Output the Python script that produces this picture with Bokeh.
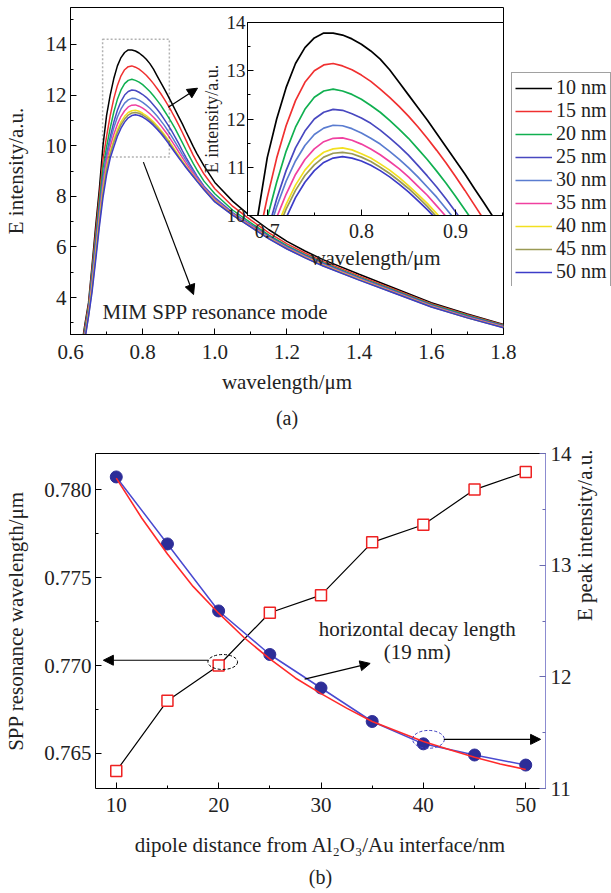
import math
from bokeh.plotting import figure
from bokeh.models import (Range1d, LinearAxis, Legend, LegendItem, Label, Arrow, NormalHead,
                          SingleIntervalTicker, PrintfTickFormatter, BoxAnnotation, FixedTicker,
                          Title)
from bokeh.layouts import column
from bokeh.embed import file_html
from bokeh.resources import INLINE

FONT = "Liberation Serif"

# ---------------- data: panel (a) ----------------
WL = [0.63, 0.64, 0.65, 0.66, 0.67, 0.68, 0.69, 0.70, 0.71, 0.72, 0.73, 0.74, 0.75, 0.76, 0.77,
      0.78, 0.79, 0.80, 0.81, 0.82, 0.83, 0.84, 0.85, 0.86, 0.87, 0.88, 0.89, 0.90, 0.91, 0.92,
      0.93, 0.94, 0.95, 0.97, 1.0, 1.05, 1.1, 1.15, 1.2, 1.25, 1.3, 1.4, 1.5, 1.6, 1.7, 1.8]
E10 = [2.0, 2.95, 3.8, 5.3, 6.85, 8.3, 10.0, 11.2, 12.0, 12.65, 13.15, 13.48, 13.68, 13.78, 13.78,
       13.74, 13.66, 13.55, 13.41, 13.24, 13.02, 12.76, 12.5, 12.24, 11.98, 11.70, 11.42, 11.14,
       10.86, 10.56, 10.27, 9.97, 9.7, 9.2, 8.55, 7.8, 7.2, 6.68, 6.22, 5.84, 5.5, 4.92, 4.36, 3.8,
       3.35, 2.94]
E15 = [1.95, 2.85, 3.7, 5.15, 6.6, 8.0, 9.45, 10.37, 11.19, 11.86, 12.38, 12.76, 13.0, 13.12, 13.15,
       13.10, 13.02, 12.91, 12.78, 12.62, 12.45, 12.26, 12.06, 11.84, 11.6, 11.35, 11.09, 10.81,
       10.52, 10.22, 9.92, 9.63, 9.36, 8.88, 8.3, 7.6, 7.06, 6.56, 6.12, 5.76, 5.43, 4.86, 4.31,
       3.76, 3.32, 2.92]
E20 = [1.9, 2.75, 3.6, 5.0, 6.35, 7.75, 9.1, 9.95, 10.69, 11.33, 11.83, 12.20, 12.45, 12.58, 12.62,
       12.58, 12.51, 12.41, 12.28, 12.14, 11.97, 11.79, 11.6, 11.38, 11.16, 10.92, 10.67, 10.40,
       10.12, 9.84, 9.57, 9.3, 9.05, 8.6, 8.1, 7.45, 6.95, 6.47, 6.05, 5.7, 5.38, 4.81, 4.27, 3.73,
       3.29, 2.9]
E25 = [1.8, 2.65, 3.5, 4.85, 6.15, 7.5, 8.75, 9.65, 10.34, 10.93, 11.4, 11.75, 12.0, 12.14, 12.2,
       12.18, 12.11, 12.02, 11.91, 11.77, 11.61, 11.44, 11.25, 11.04, 10.82, 10.59, 10.34, 10.08,
       9.8, 9.54, 9.29, 9.05, 8.82, 8.4, 7.95, 7.35, 6.88, 6.42, 6.01, 5.67, 5.35, 4.78, 4.24, 3.7,
       3.26, 2.88]
E30 = [1.75, 2.55, 3.45, 4.7, 6.0, 7.35, 8.6, 9.57, 10.18, 10.71, 11.13, 11.45, 11.68, 11.81, 11.87,
       11.86, 11.80, 11.71, 11.60, 11.48, 11.33, 11.17, 10.99, 10.80, 10.59, 10.38, 10.14, 9.9,
       9.66, 9.43, 9.2, 8.98, 8.77, 8.37, 7.9, 7.32, 6.85, 6.39, 5.98, 5.64, 5.32, 4.76, 4.22, 3.68,
       3.24, 2.86]
E35 = [1.7, 2.5, 3.4, 4.55, 5.85, 7.2, 8.4, 9.35, 9.96, 10.44, 10.85, 11.16, 11.38, 11.53, 11.6,
       11.61, 11.56, 11.48, 11.38, 11.26, 11.12, 10.97, 10.80, 10.61, 10.42, 10.2, 9.98, 9.75,
       9.53, 9.31, 9.1, 8.9, 8.71, 8.33, 7.86, 7.3, 6.83, 6.37, 5.96, 5.62, 5.3, 4.74, 4.2, 3.67,
       3.23, 2.85]
E40 = [1.65, 2.45, 3.35, 4.45, 5.75, 7.05, 8.25, 9.15, 9.75, 10.23, 10.63, 10.94, 11.16, 11.31, 11.38,
       11.40, 11.36, 11.28, 11.19, 11.07, 10.94, 10.79, 10.62, 10.44, 10.25, 10.04, 9.82, 9.61,
       9.4, 9.2, 9.0, 8.82, 8.64, 8.28, 7.82, 7.27, 6.8, 6.35, 5.94, 5.6, 5.28, 4.72, 4.18, 3.65,
       3.21, 2.83]
E45 = [1.6, 2.4, 3.3, 4.35, 5.65, 6.95, 8.15, 9.05, 9.65, 10.13, 10.52, 10.83, 11.05, 11.21, 11.29,
       11.31, 11.28, 11.21, 11.12, 11.0, 10.87, 10.72, 10.56, 10.38, 10.19, 9.97, 9.76, 9.56,
       9.36, 9.17, 8.98, 8.8, 8.62, 8.27, 7.8, 7.26, 6.79, 6.33, 5.93, 5.58, 5.26, 4.7, 4.17, 3.64,
       3.2, 2.82]
E50 = [1.5, 2.35, 3.25, 4.25, 5.5, 6.8, 7.95, 8.85, 9.5, 9.95, 10.37, 10.69, 10.93, 11.10, 11.19,
       11.22, 11.19, 11.13, 11.04, 10.93, 10.80, 10.65, 10.49, 10.31, 10.12, 9.92, 9.72, 9.52,
       9.33, 9.14, 8.96, 8.78, 8.6, 8.26, 7.78, 7.25, 6.78, 6.32, 5.92, 5.57, 5.25, 4.69, 4.16,
       3.63, 3.2, 2.81]
SERIES = [E10, E15, E20, E25, E30, E35, E40, E45, E50]
SERIES_LABELS = ["10 nm", "15 nm", "20 nm", "25 nm", "30 nm", "35 nm", "40 nm", "45 nm", "50 nm"]
COLORS = ["#000000", "#f03030", "#10b050", "#4848c0", "#5a7cd0", "#f040a0", "#f2e020",
          "#9a9a55", "#3c3cc8"]

# ---------------- data: panel (b) ----------------
DIST = [10, 15, 20, 25, 30, 35, 40, 45, 50]
RES_WL = [0.764, 0.768, 0.770, 0.773, 0.774, 0.777, 0.778, 0.780, 0.781]
PEAK_E = [13.79, 13.19, 12.59, 12.20, 11.90, 11.60, 11.40, 11.30, 11.21]
FIT_D = [10, 12.5, 15, 17.5, 20, 22.5, 25, 27.5, 30, 32.5, 35, 37.5, 40, 42.5, 45, 47.5, 50]
FIT_E = [13.78, 13.42, 13.10, 12.81, 12.57, 12.35, 12.16, 11.99, 11.85, 11.72, 11.60, 11.51,
         11.42, 11.35, 11.28, 11.22, 11.17]


def style_axis(ax, size="21px", label_size="21px", standoff=4, label_standoff=10):
    ax.major_tick_in = 6
    ax.major_tick_out = 0
    ax.minor_tick_in = 3
    ax.minor_tick_out = 0
    ax.axis_line_color = "black"
    ax.major_tick_line_color = "black"
    ax.minor_tick_line_color = "black"
    ax.major_label_text_font = FONT
    ax.major_label_text_font_size = size
    ax.major_label_text_color = "#222222"
    ax.axis_label_text_font = FONT
    ax.axis_label_text_font_size = label_size
    ax.axis_label_text_font_style = "normal"
    ax.axis_label_text_color = "#222222"
    ax.major_label_standoff = standoff
    ax.axis_label_standoff = label_standoff


def head():
    return NormalHead(size=10, fill_color="black", line_color="black", line_width=1)


W = 611
TOP_H = 436
BOT_H = 893 - TOP_H

# ================= panel (a) main =================
p = figure(width=W, height=TOP_H, x_range=Range1d(0.6, 1.8001), y_range=Range1d(2.543, 15.457),
           output_backend="svg", toolbar_location=None, frame_align=False,
           min_border_left=70, min_border_right=108, min_border_top=7,
           min_border_bottom=TOP_H - 335)
p.xgrid.visible = False
p.ygrid.visible = False
p.outline_line_color = "black"
p.xaxis.ticker = SingleIntervalTicker(interval=0.2, num_minor_ticks=2)
p.yaxis.ticker = SingleIntervalTicker(interval=2, num_minor_ticks=2)
p.xaxis.formatter = PrintfTickFormatter(format="%.1f")
p.xaxis.axis_label = "wavelength/\u03bcm"
p.yaxis.axis_label = "E intensity/a.u."
style_axis(p.xaxis[0], standoff=10, label_standoff=8)
style_axis(p.yaxis[0], label_size="21px", standoff=4, label_standoff=15)

p.add_layout(BoxAnnotation(left=0.689, right=0.874, bottom=9.55, top=14.2, fill_alpha=0,
                           line_color="black", line_dash="2 2", line_width=1.5))

for vals, col in zip(SERIES, COLORS):
    p.line(WL, vals, line_color=col, line_width=1.5)

p.add_layout(Arrow(end=head(), x_start=0.871, y_start=11.52, x_end=0.952, y_end=12.27,
                   line_width=1.2))
p.add_layout(Arrow(end=head(), x_start=0.802, y_start=9.35, x_end=0.941, y_end=4.12,
                   line_width=1.2))
p.add_layout(Label(x=0.689, y=3.45, text="MIM SPP resonance mode", text_font=FONT,
                   text_font_size="21px", text_align="left", text_baseline="middle",
                   text_color="#222222"))
p.add_layout(Title(text="(a)", align="center", offset=36, text_font=FONT,
                   text_font_size="20px", text_font_style="normal", text_color="#222222",
                   standoff=16), "below")

# ================= panel (a) inset =================
IN_TOP, IN_H = 12, 265
pi = figure(width=314, height=IN_H, x_range=Range1d(0.679, 0.951), y_range=Range1d(10, 14),
            output_backend="svg", toolbar_location=None, frame_align=False,
            min_border_left=55, min_border_right=3, min_border_top=10, min_border_bottom=62,
            margin=(-(TOP_H - IN_TOP), 0, TOP_H - IN_TOP - IN_H, 192))
pi.border_fill_color = None
pi.background_fill_color = "white"
pi.xgrid.visible = False
pi.ygrid.visible = False
pi.outline_line_color = "black"
pi.xaxis.ticker = SingleIntervalTicker(interval=0.1, num_minor_ticks=2)
pi.yaxis.ticker = SingleIntervalTicker(interval=1, num_minor_ticks=2)
pi.xaxis.formatter = PrintfTickFormatter(format="%.1f")
pi.xaxis.axis_label = "wavelength/\u03bcm"
style_axis(pi.xaxis[0], size="20px", label_size="21px", standoff=8, label_standoff=5)
style_axis(pi.yaxis[0], size="19px", label_size="20px", standoff=2, label_standoff=3)
pi.add_layout(Title(text="E intensity/a.u.", align="center", offset=26, standoff=4,
                    text_font=FONT, text_font_size="18px", text_font_style="normal",
                    text_color="#222222"), "left")
for vals, col in zip(SERIES, COLORS):
    pi.line(WL, vals, line_color=col, line_width=1.7)

# ================= panel (a) legend (overlaid box at the right edge) =================
LEG_TOP, LEG_H = 72, 214
pl = figure(width=W - 511, height=LEG_H, x_range=Range1d(100, 101), y_range=Range1d(100, 101),
            output_backend="svg", toolbar_location=None, frame_align=False,
            x_axis_location=None, y_axis_location=None, min_border=0,
            margin=(-(TOP_H - LEG_TOP), 0, TOP_H - LEG_TOP - LEG_H, 511))
pl.xgrid.visible = False
pl.ygrid.visible = False
pl.outline_line_color = None
pl.background_fill_color = "white"
pl.border_fill_color = None
leg_renderers = [pl.line(WL, vals, line_color=col, line_width=1.5)
                 for vals, col in zip(SERIES, COLORS)]
legend = Legend(items=[LegendItem(label=lab, renderers=[r])
                       for lab, r in zip(SERIES_LABELS, leg_renderers)],
                location="top_left", margin=0, padding=3, spacing=0,
                glyph_width=37, glyph_height=22, label_height=22, label_standoff=4,
                label_text_font=FONT, label_text_font_size="20px", label_text_color="#222222",
                border_line_color="#444444", border_line_width=1, background_fill_alpha=1)
pl.add_layout(legend)

# ================= panel (b) =================
p2 = figure(width=W, height=BOT_H, x_range=Range1d(7.971, 51.93),
            y_range=Range1d(0.76301, 0.78205),
            output_backend="svg", toolbar_location=None, frame_align=False,
            min_border_left=95, min_border_right=61, min_border_top=453 - TOP_H,
            min_border_bottom=893 - 788)
p2.extra_y_ranges = {"E": Range1d(11, 14)}
p2.xgrid.visible = False
p2.ygrid.visible = False
p2.outline_line_color = None
p2.xaxis.ticker = SingleIntervalTicker(interval=10, num_minor_ticks=2)
p2.yaxis.ticker = SingleIntervalTicker(interval=0.005, num_minor_ticks=2)
p2.yaxis.formatter = PrintfTickFormatter(format="%.3f")
p2.xaxis.axis_label = "dipole distance from Al\u2082O\u2083/Au interface/nm"
p2.yaxis.axis_label = "SPP resonance wavelength/\u03bcm"
style_axis(p2.xaxis[0], standoff=9, label_standoff=18)
style_axis(p2.yaxis[0], standoff=4, label_standoff=13)

right = LinearAxis(y_range_name="E", axis_label="E peak intensity/a.u.",
                   ticker=SingleIntervalTicker(interval=1, num_minor_ticks=2))
style_axis(right, standoff=5, label_standoff=10)
right.axis_line_color = "#8c8cd0"
right.major_tick_line_color = "#6a6ab0"
right.minor_tick_line_color = "#6a6ab0"
try:
    right.axis_label_orientation = math.pi / 2
except Exception:
    pass
p2.add_layout(right, "right")

top = LinearAxis(ticker=FixedTicker(ticks=[]), major_tick_out=0, major_tick_in=0,
                 minor_tick_out=0, minor_tick_in=0, axis_line_color="black",
                 major_label_text_font_size="0px")
p2.add_layout(top, "above")

p2.line(DIST, RES_WL, line_color="black", line_width=1.2)
p2.scatter(DIST, RES_WL, marker="square", size=11, fill_color="white", line_color="#ee2222",
           line_width=1.5)
p2.line(DIST, PEAK_E, line_color="#4a4ad0", line_width=1.5, y_range_name="E")
p2.scatter(DIST, PEAK_E, marker="circle", size=12, fill_color="#2d2d98", line_color="#2d2d98",
           y_range_name="E")
p2.line(FIT_D, FIT_E, line_color="#ff2a2a", line_width=1.6, y_range_name="E")

p2.ellipse(x=[20.4], y=[0.7702], width=2.9, height=0.00085, fill_color=None,
           line_color="black", line_dash="3 2", line_width=1)
p2.ellipse(x=[40.5], y=[11.44], width=3.1, height=0.16, fill_color=None,
           line_color="#4040c0", line_dash="3 2", line_width=1, y_range_name="E")

p2.add_layout(Arrow(end=head(), x_start=19.0, y_start=0.7703, x_end=8.74, y_end=0.7703,
                    line_width=1.2))
p2.add_layout(Arrow(end=head(), x_start=42.0, y_start=11.44, x_end=51.45, y_end=11.44,
                    line_width=1.2, y_range_name="E"))
p2.add_layout(Arrow(end=head(), x_start=28.4, y_start=11.98, x_end=34.8, y_end=12.12,
                    line_width=1.2, y_range_name="E"))
p2.add_layout(Label(x=39.4, y=12.43, text="horizontal decay length", y_range_name="E",
                    text_font=FONT, text_font_size="21px", text_align="center",
                    text_baseline="middle", text_color="#222222"))
p2.add_layout(Label(x=39.4, y=12.22, text="(19 nm)", y_range_name="E",
                    text_font=FONT, text_font_size="21px", text_align="center",
                    text_baseline="middle", text_color="#222222"))
p2.add_layout(Title(text="(b)", align="center", offset=0, text_font=FONT,
                    text_font_size="20px", text_font_style="normal", text_color="#222222",
                    standoff=9), "below")

layout = column(p, pi, pl, p2)
open("out.html", "w").write(file_html(layout, INLINE, "chart"))
